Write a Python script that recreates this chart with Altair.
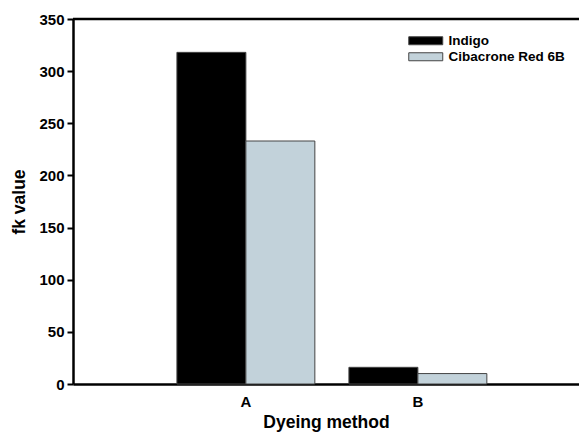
import altair as alt
import pandas as pd

methods = ["A", "A", "B", "B"]
dyes = ["Indigo", "Cibacrone Red 6B", "Indigo", "Cibacrone Red 6B"]
fk_values = [318, 233, 16, 10]

dye_order = ["Indigo", "Cibacrone Red 6B"]
dye_colors = ["#000000", "#c2d2da"]
y_ticks = [0, 50, 100, 150, 200, 250, 300, 350]

df = pd.DataFrame({"method": methods, "dye": dyes, "fk": fk_values})

FONT = "Liberation Sans"
W, H = 506, 365

bars = alt.Chart(df).mark_bar(stroke="#444444", strokeWidth=1).encode(
    x=alt.X("method:N",
            scale=alt.Scale(paddingInner=0.198, paddingOuter=0.57, align=0.53),
            axis=alt.Axis(title="Dyeing method", labelAngle=0, ticks=False,
                          labelPadding=10, titlePadding=4)),
    xOffset=alt.XOffset("dye:N", sort=dye_order, scale=alt.Scale(paddingInner=0, paddingOuter=0)),
    y=alt.Y("fk:Q", scale=alt.Scale(domain=[0, 350], nice=False),
            axis=alt.Axis(title="fk value", values=y_ticks, grid=False, tickSize=6,
                          labelPadding=3, titlePadding=10)),
    color=alt.Color("dye:N", sort=dye_order,
                    scale=alt.Scale(domain=dye_order, range=dye_colors),
                    legend=alt.Legend(title=None, orient="none", legendX=346, legendY=15,
                                      symbolType="M-3.4,-0.8L3.4,-0.8L3.4,0.8L-3.4,0.8Z",
                                      symbolSize=100, symbolStrokeColor="#444444",
                                      symbolStrokeWidth=1, labelFont=FONT,
                                      labelFontWeight="bold", labelFontSize=13.5,
                                      labelColor="black", rowPadding=1, labelOffset=16)),
)

top = alt.Chart(pd.DataFrame({"v": [350]})).mark_rule(color="black", strokeWidth=2.5).encode(
    y="v:Q", x=alt.value(0), x2=alt.value(W)
)

chart = alt.layer(bars, top).properties(
    width=W, height=H,
    autosize=alt.AutoSizeParams(type="none"),
    padding={"left": 65, "top": 11, "right": 0, "bottom": 49},
).configure_view(stroke=None).configure_axis(
    domainColor="black", domainWidth=2.5, tickColor="black", tickWidth=2,
    labelFont=FONT, labelFontWeight="bold", labelFontSize=15, labelColor="black",
    titleFont=FONT, titleFontWeight="bold", titleFontSize=17.5, titleColor="black",
)

chart.save("out.html", embed_options={"renderer": "svg", "actions": False})
